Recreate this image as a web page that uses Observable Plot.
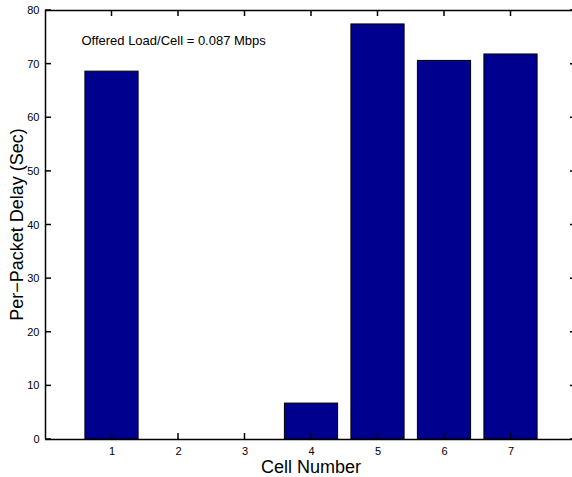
<!DOCTYPE html>
<html>
<head>
<meta charset="utf-8">
<script src="https://cdn.jsdelivr.net/npm/d3@7"></script>
<script src="https://cdn.jsdelivr.net/npm/@observablehq/plot@0.6"></script>
<style>
  html, body { margin: 0; padding: 0; background: #fff; overflow: hidden; }
  svg { display: block; max-width: none !important; overflow: hidden !important; }
</style>
</head>
<body>
<div id="chart"></div>
<script>
const cells = [1, 2, 3, 4, 5, 6, 7];
const delays = [68.6, 0, 0, 6.7, 77.4, 70.6, 71.8];
const xTicks = [1, 2, 3, 4, 5, 6, 7];
const yTicks = [0, 10, 20, 30, 40, 50, 60, 70, 80];
const annotation = "Offered Load/Cell = 0.087 Mbps";
const xLabel = "Cell Number";
const yLabel = "Per\u2212Packet Delay (Sec)";

const data = cells.map((c, i) => ({cell: c, delay: delays[i]}));

const W = 572, H = 477, mT = 10, mB = 38, mL = 45, mR = -5;
const plotH = H - mT - mB;
const tk = 6;
const FONT = "'Liberation Sans', Arial, sans-serif";

const chart = Plot.plot({
  width: W,
  height: H,
  marginTop: mT,
  marginBottom: mB,
  marginLeft: mL,
  marginRight: mR,
  style: {fontFamily: FONT, background: "#fff", color: "#000", overflow: "hidden"},
  x: {type: "linear", domain: [0, 8], axis: null},
  y: {domain: [0, 80], axis: null},
  marks: [
    Plot.rectY(data, {
      x1: d => d.cell - 0.4,
      x2: d => d.cell + 0.4,
      y: "delay",
      fill: "#00008f",
      stroke: "#000",
      strokeWidth: 1
    }),
    Plot.axisX(xTicks, {anchor: "bottom", tickSize: 0, tickPadding: 8, fontSize: 11, label: null}),
    Plot.axisY(yTicks, {anchor: "left", tickSize: 0, tickPadding: 6, fontSize: 11, label: null}),
    Plot.ruleY([0, 80], {stroke: "#000", strokeWidth: 1.5}),
    Plot.ruleX([0], {stroke: "#000", strokeWidth: 1.5}),
    Plot.text([annotation], {
      x: 0.54, y: 74.4, text: d => d, textAnchor: "start", fontSize: 13
    })
  ]
});

const sx = chart.scale("x"), sy = chart.scale("y");
const svg = d3.select(chart);
const g = svg.append("g").attr("stroke", "#000").attr("stroke-width", 1.5).attr("fill", "none");
const yb = mT + plotH, yt = mT, xl = mL, xEdge = W;
xTicks.forEach(v => {
  const x = sx.apply(v);
  g.append("line").attr("x1", x).attr("x2", x).attr("y1", yb).attr("y2", yb - tk);
  g.append("line").attr("x1", x).attr("x2", x).attr("y1", yt).attr("y2", yt + tk);
});
yTicks.forEach(v => {
  const y = sy.apply(v);
  g.append("line").attr("x1", xl).attr("x2", xl + tk).attr("y1", y).attr("y2", y);
  g.append("line").attr("x1", xEdge).attr("x2", xEdge - 2).attr("y1", y).attr("y2", y);
});

svg.append("text")
  .attr("x", (mL + W - mR) / 2)
  .attr("y", H - 4)
  .attr("text-anchor", "middle")
  .attr("font-size", 18)
  .attr("font-family", FONT)
  .attr("fill", "#000")
  .text(xLabel);
svg.append("text")
  .attr("transform", `translate(23,${mT + plotH / 2}) rotate(-90)`)
  .attr("text-anchor", "middle")
  .attr("font-size", 18)
  .attr("font-family", FONT)
  .attr("fill", "#000")
  .text(yLabel);

document.getElementById("chart").appendChild(chart);
</script>
</body>
</html>
